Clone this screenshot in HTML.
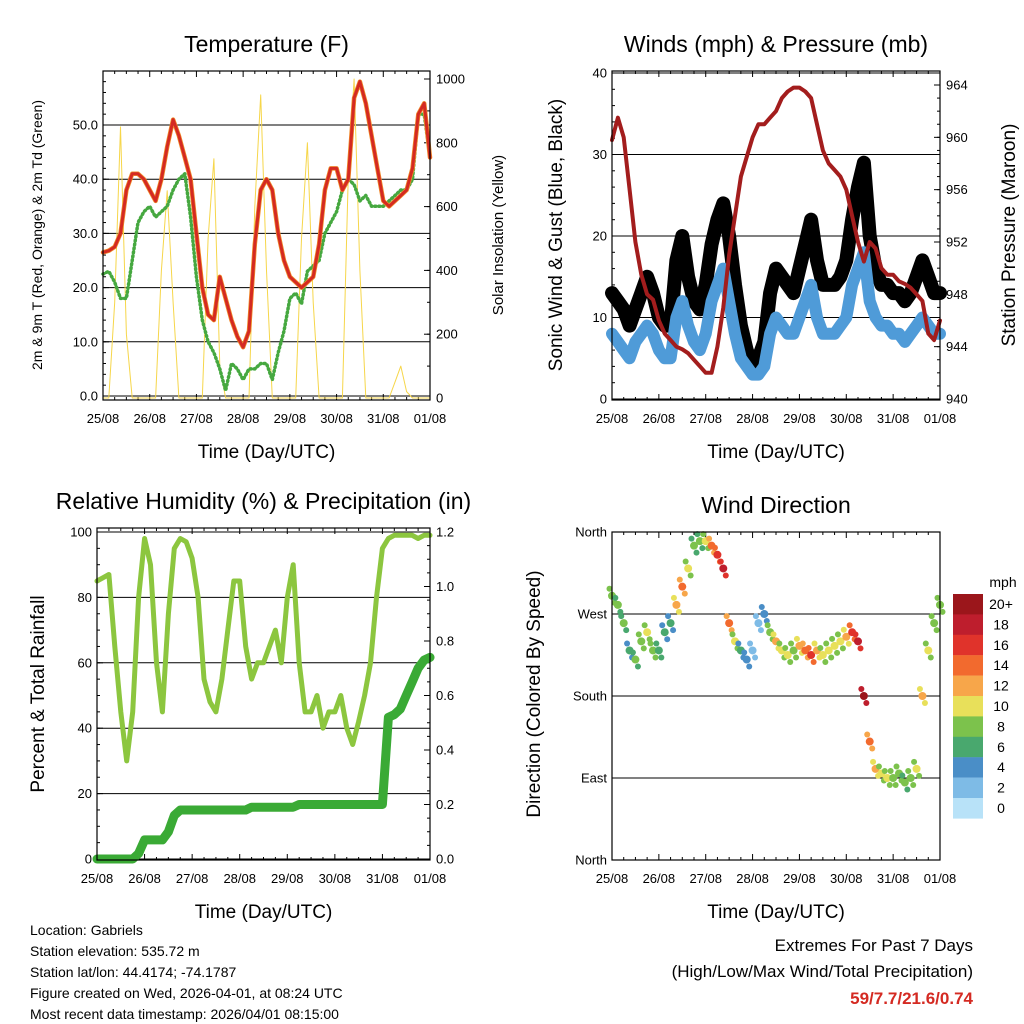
<!DOCTYPE html>
<html><head><meta charset="utf-8"><style>
body{margin:0;background:#fff;}
svg{display:block;font-family:"Liberation Sans",Arial,sans-serif;}
</style></head><body>
<svg id="c" width="1024" height="1024" viewBox="0 0 1024 1024"></svg>
<script>
// ---- data (3-hourly, 25/08 00Z to 01/08 00Z) ----
const dayLabels=["25/08","26/08","27/08","28/08","29/08","30/08","31/08","01/08"];
const tempF=[26.5,26.8,27.5,30,38,41,41,40, 38,36,40,46,51,48,44,40, 30,20,15,14,22,18,14,11, 9,12,28,38,40,38,30,25, 22,21,20,21,22,28,38,42, 42,38,40,55,58,54,48,42, 36,35,36,37,38,42,52,54, 44];
const dewF=[22.5,23,21,18,18,25,32,34, 35,33,34,35,38,40,41,33, 22,14,10,8,5,1,6,5, 3,5,5,6,6,3,8,12, 18,19,17,23,24,25,30,32, 34,38,40,39,36,37,35,35, 35,36,37,38,38,40,52,52, 44];
const solar=[0,0,300,850,200,0,0,0, 0,0,400,650,300,0,0,0, 0,0,500,750,100,0,0,0, 0,0,600,950,400,0,0,0, 0,0,500,800,300,0,0,0, 0,0,700,1000,400,0,0,0, 0,0,50,100,20,0,0,0, 0];
const pressure=[959.8,961.5,960,956,952,949.5,948,947.6, 946,945,944.5,944,943.8,943.5,943,942.5, 942,942,944,947,951,954,957,958.5, 960,961,961,961.5,962,963,963.5,963.8, 963.8,963.5,963,961,959,958,957.5,957, 956,954,952,950.5,952,951.5,950,949.5, 949.5,949,948.8,948.5,948,947.5,945,944.5, 946];
const windSpd=[8,7,6,5,7,8,9,8, 6,5,5,10,12,9,7,6, 8,12,14,16,12,8,5,4, 3,3,4,8,10,9,8,8, 10,12,14,10,8,8,8,9, 10,14,16,18,12,10,9,9, 8,8,7,8,9,10,9,8, 8];
const windGust=[13,12,11,9,11,13,15,13, 10,9,9,17,20,15,12,11, 14,19,22,24,20,14,9,6, 4,5,7,13,16,15,14,13, 16,19,22,17,14,14,14,15, 17,22,26,29,20,16,14,14, 13,13,12,13,15,17,15,13, 13];
const rh=[85,86,87,65,45,30,45,80, 98,90,60,45,75,95,98,97, 92,80,55,48,45,55,70,85, 85,65,55,60,60,65,70,60, 80,90,60,45,45,50,40,45, 45,50,40,35,42,50,60,80, 95,98,99,99,99,99,98,99, 99];
const precip=[0,0,0,0,0,0,0,0.02, 0.07,0.07,0.07,0.07,0.1,0.16,0.18,0.18, 0.18,0.18,0.18,0.18,0.18,0.18,0.18,0.18, 0.18,0.18,0.19,0.19,0.19,0.19,0.19,0.19, 0.19,0.19,0.2,0.2,0.2,0.2,0.2,0.2, 0.2,0.2,0.2,0.2,0.2,0.2,0.2,0.2, 0.2,0.52,0.53,0.55,0.6,0.65,0.7,0.73, 0.74];
const windDir=[290,280,260,230,220,240,250,230, 230,250,260,280,300,320,345,350, 350,345,335,320,260,240,230,220, 230,260,270,250,240,230,225,230, 235,230,225,230,225,230,235,240, 245,250,240,180,130,100,95,90, 90,95,85,90,100,180,230,260, 280];
const tempTicks=["0.0","10.0","20.0","30.0","40.0","50.0"];
const solarTicks=["0","200","400","600","800","1000"];
const windTicks=["0","10","20","30","40"];
const presTicks=["940","944","948","952","956","960","964"];
const rhTicks=["0","20","40","60","80","100"];
const rainTicks=["0.0","0.2","0.4","0.6","0.8","1.0","1.2"];
const dirTicks=["North","East","South","West","North"];
const legendLabels=["20+","18","16","14","12","10","8","6","4","2","0"];
const legendColors=["#9b161b","#be1e2d","#e0332b","#f26a2e","#f7a64a","#e8e05a","#7cc24c","#49a86e","#4a8ec7","#7ebbe6","#b8e2f8"];

const NS="http://www.w3.org/2000/svg";
const svg=document.getElementById('c');
function mk(tag,attrs,parent){const e=document.createElementNS(NS,tag);for(const k in attrs)e.setAttribute(k,attrs[k]);(parent||svg).appendChild(e);return e;}
function txt(s,x,y,size,anchor,parent,extra){const t=mk('text',Object.assign({x:x,y:y,'font-size':size,'text-anchor':anchor||'middle',fill:'#000'},extra||{}),parent);t.textContent=s;return t;}
function lin(d0,d1,p0,p1){return v=>p0+(v-d0)*(p1-p0)/(d1-d0);}
const N=tempF.length;

function panel(name,x0,x1,y0,y1,title,xlab){
  const g=mk('g',{});
  
  
  const t=txt(title,(x0+x1)/2,y0-19,23,'middle',g);
  
  const xl=txt(xlab,(x0+x1)/2,y1+58,19,'middle',g);
  
  const xs=lin(0,N-1,x0,x1);
  for(let d=0;d<8;d++){const x=xs(d*8);mk('line',{x1:x,x2:x,y1:y1,y2:y1-6,stroke:'#000'},g);mk('line',{x1:x,x2:x,y1:y0,y2:y0+6,stroke:'#000'},g);
    const l=txt(dayLabels[d],x,y1+23,13,'middle',g);
    if(d<7)for(let h=1;h<4;h++){const xm=xs(d*8+h*2);mk('line',{x1:xm,x2:xm,y1:y1,y2:y1-3,stroke:'#000'},g);mk('line',{x1:xm,x2:xm,y1:y0,y2:y0+3,stroke:'#000'},g);}}
  return {g,xs};
}
function frame(g,x0,x1,y0,y1){mk('rect',{x:x0,y:y0,width:x1-x0,height:y1-y0,fill:'none',stroke:'#000','stroke-width':1.2},g);}
function yAxis(g,ticks,vals,sc,x,side,grid,x0,x1,minorStep,vmin,vmax){
  ticks.forEach((s,i)=>{const y=sc(vals[i]);
    if(grid)mk('line',{x1:x0,x2:x1,y1:y,y2:y,stroke:'#000','stroke-width':1},g);
    mk('line',{x1:x,x2:x+(side<0?6:-6),y1:y,y2:y,stroke:'#000'},g);
    const l=txt(s,x+(side<0?-5:6),y+4.5,13,side<0?'end':'start',g);});
  if(minorStep)for(let v=vmin;v<=vmax+1e-9;v+=minorStep){const y=sc(v);mk('line',{x1:x,x2:x+(side<0?3:-3),y1:y,y2:y,stroke:'#000'},g);}
}
function ylabel(g,s,x,y,size,name){const t=txt(s,x,y,size,'middle',g,{transform:`rotate(-90 ${x} ${y})`});}
function path(g,xs,ys,arr,attrs,name){let d='';arr.forEach((v,i)=>{d+=(i?'L':'M')+xs(i).toFixed(1)+','+ys(v).toFixed(1);});const p=mk('path',Object.assign({d:d,fill:'none','stroke-linejoin':'round','stroke-linecap':'round'},attrs),g);return p;}

// Panel 1 temperature
{const x0=103,x1=430,y0=71,y1=400;const P=panel('temperature-panel',x0,x1,y0,y1,'Temperature (F)','Time (Day/UTC)');const g=P.g;
 const yt=lin(0,50,396,125),ys=lin(0,1000,398,79);
 yAxis(g,tempTicks,[0,10,20,30,40,50],yt,x0,-1,true,x0,x1,2,0,58);
 yAxis(g,solarTicks,[0,200,400,600,800,1000],ys,x1,1,false,x0,x1,100,0,1000);
 path(g,P.xs,ys,solar,{stroke:'#f6d64a','stroke-width':1},'solar-insolation-line');
 path(g,P.xs,yt,dewF,{stroke:'#46a840','stroke-width':3.5,'stroke-dasharray':'1 3'},'dewpoint-line');
 path(g,P.xs,yt,tempF,{stroke:'#f08a2a','stroke-width':4.5},'temp-9m-line');
 path(g,P.xs,yt,tempF,{stroke:'#d42a22','stroke-width':3},'temp-2m-line');
 frame(g,x0,x1,y0,y1);
 ylabel(g,'2m & 9m T (Red, Orange) & 2m Td (Green)',42,235,14,'y-axis-title-left');
 ylabel(g,'Solar Insolation (Yellow)',503,235,15,'y-axis-title-right');}

// Panel 2 winds
{const x0=612,x1=940,y0=71,y1=400;const P=panel('winds-panel',x0,x1,y0,y1,'Winds (mph) & Pressure (mb)','Time (Day/UTC)');const g=P.g;
 const yw=lin(0,40,399,73),yp=lin(940,964,399,85);
 yAxis(g,windTicks,[0,10,20,30,40],yw,x0,-1,true,x0,x1,2,0,40);
 yAxis(g,presTicks,[940,944,948,952,956,960,964],yp,x1,1,false,x0,x1,1,940,964);
 path(g,P.xs,yw,windGust,{stroke:'#000','stroke-width':14},'gust-band');
 windGust.forEach((v,i)=>{const c=mk('circle',{cx:P.xs(i),cy:yw(v),r:2.5,fill:'#000'},g);});
 path(g,P.xs,yw,windSpd,{stroke:'#4f9bd8','stroke-width':12},'sonic-wind-band');
 path(g,P.xs,yp,pressure,{stroke:'#a31d1d','stroke-width':4},'pressure-line');
 frame(g,x0,x1,y0,y1);
 ylabel(g,'Sonic Wind & Gust (Blue, Black)',562,235,19,'y-axis-title-left');
 ylabel(g,'Station Pressure (Maroon)',1015,235,19,'y-axis-title-right');}

// Panel 3 RH
{const x0=97,x1=430,y0=528,y1=860;const P=panel('humidity-panel',x0,x1,y0,y1,'Relative Humidity (%) & Precipitation (in)','Time (Day/UTC)');const g=P.g;
 const yr=lin(0,100,859,532),yq=lin(0,1.2,859,532);
 yAxis(g,rhTicks,[0,20,40,60,80,100],yr,x0,-1,true,x0,x1,5,0,100);
 yAxis(g,rainTicks,[0,0.2,0.4,0.6,0.8,1.0,1.2],yq,x1,1,false,x0,x1,0.05,0,1.2);
 path(g,P.xs,yr,rh,{stroke:'#8cc63f','stroke-width':5},'rh-line');
 path(g,P.xs,yq,precip,{stroke:'#3aaa35','stroke-width':9},'precip-line');
 frame(g,x0,x1,y0,y1);
 ylabel(g,'Percent & Total Rainfall',44,694,19,'y-axis-title-left');}

// Panel 4 wind direction
{const x0=612,x1=940,y0=532,y1=860;const P=panel('wind-direction-panel',x0,x1,y0,y1,'Wind Direction','Time (Day/UTC)');const g=P.g;
 const yd=lin(0,360,860,532);
 yAxis(g,dirTicks,[0,90,180,270,360],yd,x0,-1,false,x0,x1,0,0,0);
 [90,180,270].forEach(v=>mk('line',{x1:x0,x2:x1,y1:yd(v),y2:yd(v),stroke:'#000'},g));
 function col(s){let k=Math.min(10,Math.max(0,Math.floor(s/2)));return legendColors[10-k];}
 windDir.forEach((v,i)=>{
  const c=mk('circle',{cx:P.xs(i),cy:yd(v),r:4,fill:col(windGust[i]*0.75)},g);
  const c2=mk('circle',{cx:P.xs(i)+2.5,cy:yd(v)+7,r:3,fill:col(windSpd[i])},g);
  const c3=mk('circle',{cx:P.xs(i)-2.5,cy:yd(v)-7,r:3,fill:col(windSpd[i])},g);});
 frame(g,x0,x1,y0,y1);
 ylabel(g,'Direction (Colored By Speed)',540,694,19,'y-axis-title-left');
 const lg=mk('g',{});
 txt('mph',1003,587,14,'middle',lg);
 legendLabels.forEach((s,i)=>{const y=594+i*20.4;const r=mk('rect',{x:953,y:y,width:30,height:20.6,fill:legendColors[i]},lg);
  const l=txt(s,1001,y+15,14,'middle',lg);});}

// footer text
{const g=mk('g',{});
 ["Location: Gabriels","Station elevation: 535.72 m","Station lat/lon: 44.4174; -74.1787","Figure created on Wed, 2026-04-01, at 08:24 UTC","Most recent data timestamp: 2026/04/01 08:15:00"].forEach((s,i)=>txt(s,30,935+i*21,14,'start',g));
 const h=mk('g',{});
 txt('Extremes For Past 7 Days',973,951,17,'end',h);
 txt('(High/Low/Max Wind/Total Precipitation)',973,977,17,'end',h);
 txt('59/7.7/21.6/0.74',973,1004,17,'end',h,{fill:'#d42a22','font-weight':'bold'});}
</script>
</body></html>
